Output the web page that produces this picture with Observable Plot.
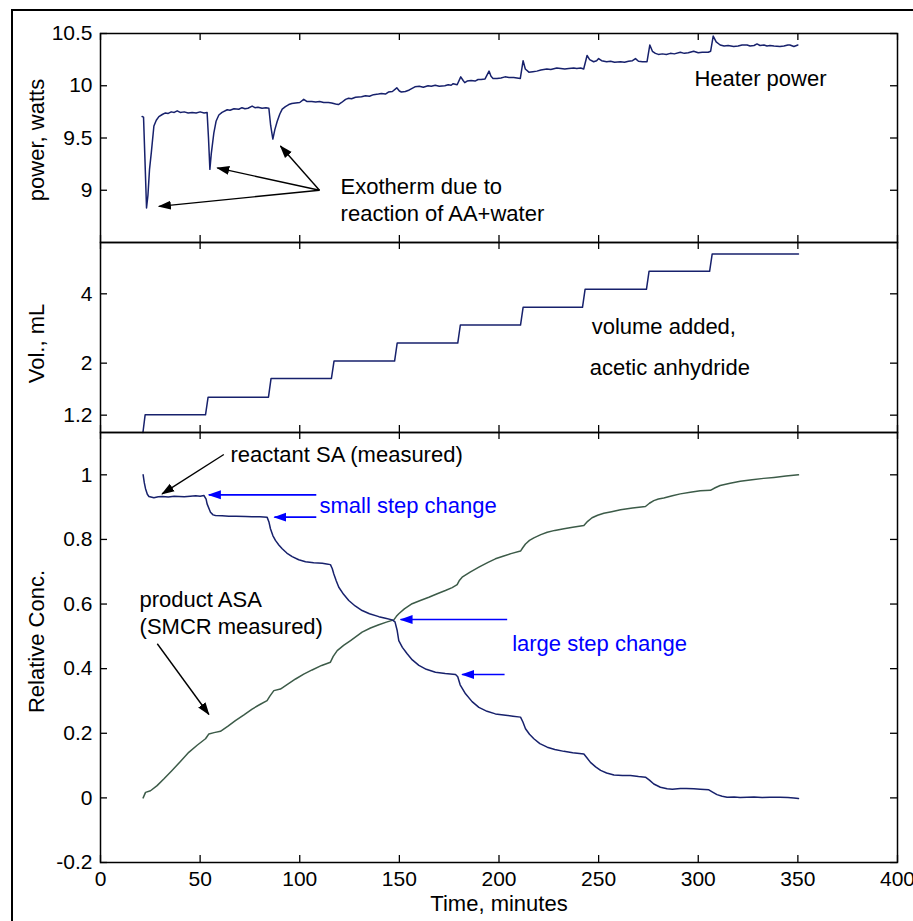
<!DOCTYPE html>
<html>
<head>
<meta charset="utf-8">
<script src="https://cdn.jsdelivr.net/npm/d3@7"></script>
<script src="https://cdn.jsdelivr.net/npm/@observablehq/plot@0.6"></script>
<style>
  html, body { margin: 0; padding: 0; background: #fff; overflow: hidden; }
  #fig { position: relative; width: 913px; height: 921px; overflow: hidden; }
  #fig svg { position: absolute; left: 0; overflow: visible; }
  #border { position: absolute; left: 11px; top: 9px; width: 1000px; height: 1000px; border: 2px solid #000; box-sizing: border-box; }
</style>
</head>
<body>
<div id="fig"><div id="border"></div></div>
<script>
// ---------------- DATA ----------------
const xTicks = [0, 50, 100, 150, 200, 250, 300, 350, 400];
const xTickLabels = ["0", "50", "100", "150", "200", "250", "300", "350", "400"];

// Top panel: heater power (watts) vs time (minutes)
const powerT = [20.9,21.6,22.3,23.1,23.8,24.6,25.5,26.8,28.0,29.3,31,32.6,34,35.5,37,38.5,40,42,44,46,48,50,52,53.5,
  54.2,54.9,55.6,56.9,58,59.4,61,63.6,65,67,69.4,71,72.5,74,76.1,77.5,79,81.1,83,84.5,
  85.4,86.5,87.5,88.7,90,91.2,92.8,94.5,96,97.9,100,102,103.5,106,108,110,112,114.4,116,118,119.4,121,123,124.5,126,128,131,133,135,137,139.5,141,143,144.5,146.5,
  148.7,150,151,153,155,157.8,160,162,164.4,166,168,170,172.8,174.5,176,177,179,
  180.8,182,182.8,184,186,188,189.5,191,193,195,196,197,199,201,203,205,207.4,209,210.7,
  212.1,213.2,215,217,219,221,224,226,229,231,233,235,237.5,239,241,242.5,
  244.2,245.5,247.5,249,250,251.5,254,256,258,261,263,265,267,268.5,270,272,274.3,
  275.7,277,278.5,280,282,284,286,288,291,293,295,297.7,300,302,305,306.2,
  307.5,309,311,313,315,317.8,320,322,324.5,326,328,329.5,331,333,334.5,336,338,341,343,345,346,348,350];
const powerW = [9.705,9.70,9.3,8.83,8.95,9.2,9.36,9.615,9.67,9.705,9.725,9.74,9.735,9.75,9.745,9.76,9.745,9.75,9.74,9.745,9.74,9.75,9.74,9.745,
  9.5,9.20,9.35,9.55,9.66,9.72,9.745,9.77,9.765,9.78,9.775,9.79,9.78,9.785,9.805,9.79,9.795,9.785,9.79,9.785,
  9.62,9.49,9.58,9.66,9.73,9.776,9.80,9.82,9.83,9.836,9.84,9.87,9.85,9.85,9.845,9.85,9.84,9.84,9.835,9.825,9.82,9.84,9.87,9.88,9.875,9.89,9.895,9.905,9.9,9.915,9.92,9.925,9.92,9.94,9.945,
  9.98,9.95,9.94,9.945,9.96,9.99,9.995,9.985,10.0,9.995,10.005,9.995,10.0,10.01,10.005,10.02,10.01,
  10.085,10.05,10.03,10.045,10.05,10.045,10.06,10.06,10.065,10.14,10.09,10.07,10.07,10.075,10.085,10.08,10.08,10.075,10.07,
  10.24,10.16,10.13,10.135,10.14,10.15,10.16,10.155,10.17,10.165,10.16,10.165,10.17,10.165,10.17,10.16,
  10.29,10.25,10.23,10.24,10.26,10.24,10.23,10.235,10.225,10.23,10.225,10.235,10.24,10.26,10.235,10.23,10.23,
  10.39,10.33,10.31,10.30,10.305,10.30,10.31,10.305,10.32,10.31,10.315,10.33,10.315,10.32,10.32,10.33,
  10.475,10.42,10.39,10.38,10.385,10.375,10.38,10.39,10.39,10.38,10.385,10.40,10.385,10.39,10.38,10.385,10.38,10.375,10.38,10.39,10.39,10.375,10.39];
const powerTicks = [9, 9.5, 10, 10.5];
const powerTickLabels = ["9", "9.5", "10", "10.5"];

// Middle panel: volume of acetic anhydride added (mL)
const volT = [21.3,22.4,52.7,54.0,84.3,85.6,115.9,117.2,147.6,148.9,179.3,180.6,210.8,212.1,241.9,243.2,274.0,275.3,305.7,307.0,350.3];
const volV = [0,0.51,0.51,1.02,1.02,1.56,1.56,2.06,2.06,2.58,2.58,3.10,3.10,3.61,3.61,4.13,4.13,4.65,4.65,5.15,5.15];
const volTicks = [0.5, 2, 4];
const volTickLabels = ["1.2", "2", "4"];

// Bottom panel: reactant SA (measured)
const saT = [21.4,22.0,22.6,23.5,24.3,26.8,29,31,34,37,39.4,42,45,47.8,50,51.9,53.0,53.5,55.2,56.5,57.7,61,64.4,68,72.8,76,80,83.6,
  84.5,85.3,86.5,87.8,89.5,91.2,93.5,96.2,99.5,102.9,107,111.3,113.5,115.4,116.3,117.1,118.3,119.6,122,124.6,127.8,131.3,135,139.7,143,146.4,
  147.8,148.9,149.7,151.5,153.9,156.5,159.8,163.5,168.1,173,178.2,179.3,180.5,183.2,186.5,189.9,194,198.2,203.3,207,210.8,
  212,213.3,215.3,217.5,220.5,224.2,228,232.6,237,242.6,244,245.9,248.5,251,254,257.7,262,266,270,273.5,
  275.5,277.7,281,284.4,287,291,294,297.8,301,305.3,307.2,309.4,312,314.5,318,321,324.5,328,332,336,341,345,348,350.3];
const saC = [1.0,0.975,0.957,0.94,0.933,0.929,0.932,0.933,0.931,0.934,0.933,0.932,0.934,0.935,0.934,0.936,0.925,0.910,0.884,0.876,0.874,0.873,0.872,0.872,0.871,0.870,0.870,0.869,
  0.855,0.833,0.812,0.797,0.783,0.771,0.758,0.747,0.737,0.731,0.728,0.726,0.724,0.722,0.71,0.693,0.672,0.652,0.63,0.611,0.594,0.580,0.570,0.561,0.556,0.551,
  0.545,0.518,0.487,0.466,0.446,0.427,0.41,0.398,0.389,0.385,0.382,0.375,0.35,0.322,0.298,0.280,0.268,0.260,0.256,0.253,0.250,
  0.235,0.214,0.197,0.183,0.168,0.157,0.150,0.144,0.140,0.136,0.125,0.110,0.096,0.085,0.077,0.071,0.069,0.069,0.066,0.064,
  0.055,0.043,0.033,0.028,0.027,0.029,0.029,0.028,0.027,0.025,0.018,0.010,0.005,0.002,0.003,0.001,0.002,0.003,0.001,0.002,0.002,0.001,0.0,-0.002];

// Bottom panel: product ASA (SMCR measured)
const asaT = [21.4,22.6,25.1,28.4,32,35.9,40,44.3,48.5,52.7,53.5,54.4,57,60.2,64,67.7,72,76.1,80,83.6,85,87,90.3,94,97.9,102,106.2,111,115.4,
  116.8,118.8,122,125.5,131.3,135.5,139.7,143.5,147.2,148.5,149.7,152.5,156.4,160.5,164.8,169,173.1,176.5,179,180,181.5,185.5,189.9,194.5,198.2,202,206,210.8,
  212,213.3,215.3,217.5,221,224.2,228,232.6,237,242.6,244.5,246.7,249.5,252.6,256.5,261,267,273.5,
  275.5,277.7,280,282.7,287,291,296,301,306.1,308.5,311,316,321.1,327,332.8,338,344,350.3];
const asaC = [0.0,0.017,0.022,0.038,0.06,0.085,0.112,0.141,0.163,0.183,0.19,0.198,0.202,0.206,0.222,0.239,0.257,0.275,0.289,0.301,0.315,0.332,0.337,0.352,0.368,0.383,0.396,0.41,0.42,
  0.438,0.456,0.472,0.487,0.513,0.526,0.536,0.544,0.551,0.562,0.570,0.585,0.601,0.611,0.621,0.632,0.642,0.651,0.660,0.672,0.683,0.699,0.714,0.729,0.740,0.748,0.756,0.764,
  0.775,0.786,0.797,0.805,0.815,0.822,0.828,0.833,0.838,0.843,0.856,0.867,0.875,0.881,0.886,0.892,0.897,0.902,
  0.912,0.920,0.925,0.928,0.935,0.941,0.946,0.951,0.952,0.96,0.967,0.974,0.980,0.985,0.989,0.992,0.996,1.0];
const concTicks = [-0.2, 0, 0.2, 0.4, 0.6, 0.8, 1];
const concTickLabels = ["-0.2", "0", "0.2", "0.4", "0.6", "0.8", "1"];

// Annotations (data coordinates)
const exoArrows = [
  {x1: 109.9, y1: 9.0, x2: 29.3, y2: 8.846},
  {x1: 109.9, y1: 9.0, x2: 58.6, y2: 9.214},
  {x1: 109.9, y1: 9.0, x2: 90.3, y2: 9.423}
];
const blackArrowsConc = [
  {x1: 61.9, y1: 1.063, x2: 30.9, y2: 0.941},
  {x1: 28.5, y1: 0.477, x2: 54.4, y2: 0.258}
];
const blueArrowsConc = [
  {x1: 108.3, y1: 0.938, x2: 54.4, y2: 0.938},
  {x1: 108.3, y1: 0.869, x2: 87.3, y2: 0.869},
  {x1: 204.1, y1: 0.552, x2: 150.6, y2: 0.552},
  {x1: 202.8, y1: 0.382, x2: 181.5, y2: 0.382}
];

// ---------------- DRAWING ----------------
const W = 913, ML = 100, MR = 16;
const FONT = "'Liberation Sans', Arial, Helvetica, sans-serif";
const NAVY = "#17216c", GREEN = "#3c5b48", BLUE = "#0000ff";
const SVGNS = "http://www.w3.org/2000/svg";

function filledHead(color) {
  const m = document.createElementNS(SVGNS, "marker");
  m.setAttribute("viewBox", "0 -5 13 10");
  m.setAttribute("markerWidth", "13");
  m.setAttribute("markerHeight", "10");
  m.setAttribute("markerUnits", "userSpaceOnUse");
  m.setAttribute("refX", "12");
  m.setAttribute("refY", "0");
  m.setAttribute("orient", "auto");
  const p = document.createElementNS(SVGNS, "path");
  p.setAttribute("d", "M0,-4.5L13,0L0,4.5Z");
  p.setAttribute("fill", color);
  p.setAttribute("stroke", "none");
  m.appendChild(p);
  return m;
}

function tickMarks(yTicks, frameW, frameH) {
  const L = 7;
  return [
    Plot.tickY(yTicks, {y: d => d, insetRight: frameW - L, stroke: "#000", strokeWidth: 1.3}),
    Plot.tickY(yTicks, {y: d => d, insetLeft: frameW - L, stroke: "#000", strokeWidth: 1.3}),
    Plot.tickX(xTicks, {x: d => d, insetBottom: frameH - L, stroke: "#000", strokeWidth: 1.3}),
    Plot.tickX(xTicks, {x: d => d, insetTop: frameH - L, stroke: "#000", strokeWidth: 1.3})
  ];
}

function yLabels(ticks, labels) {
  return Plot.text(ticks, {y: d => d, text: (d, i) => labels[i], frameAnchor: "left", dx: -8, textAnchor: "end", fontSize: 21, fill: "#000"});
}

function yTitle(txt, dy) {
  return Plot.text([txt], {frameAnchor: "left", dx: -64, dy: dy || 0, rotate: -90, text: d => d, textAnchor: "middle", fontSize: 22, fill: "#000"});
}

function basePlot(height, mt, mb, ydomain, marks) {
  return Plot.plot({
    width: W, height, marginLeft: ML, marginRight: MR, marginTop: mt, marginBottom: mb,
    x: {domain: [0, 400], axis: null},
    y: {domain: ydomain, axis: null},
    style: {fontFamily: FONT, fontSize: "21px", background: "transparent", overflow: "visible"},
    marks
  });
}

const FW = W - ML - MR;

// Top panel
const powerChart = basePlot(242, 33, 0, [8.5, 10.5], [
  Plot.line(powerT, {x: d => d, y: (d, i) => powerW[i], stroke: NAVY, strokeWidth: 1.5}),
  ...tickMarks(powerTicks, FW, 209),
  yLabels(powerTicks, powerTickLabels),
  yTitle("power, watts", 2),
  Plot.text(["Heater power"], {x: 298.1, y: 10.067, text: d => d, textAnchor: "start", fontSize: 22, fill: "#000"}),
  Plot.text(["Exotherm due to"], {x: 120.5, y: 9.032, text: d => d, textAnchor: "start", fontSize: 22, fill: "#000"}),
  Plot.text(["reaction of AA+water"], {x: 120.5, y: 8.772, text: d => d, textAnchor: "start", fontSize: 22, fill: "#000"}),
  Plot.link(exoArrows, {x1: "x1", y1: "y1", x2: "x2", y2: "y2", stroke: "#000", strokeWidth: 1.4, markerEnd: filledHead}),
  Plot.frame({stroke: "#000", strokeWidth: 1.5})
]);
powerChart.style.top = "0px";

// Middle panel
const volChart = basePlot(190, 0, 0, [0, 5.48], [
  Plot.line(volT, {x: d => d, y: (d, i) => volV[i], stroke: NAVY, strokeWidth: 1.5}),
  ...tickMarks(volTicks, FW, 190),
  yLabels(volTicks, volTickLabels),
  yTitle("Vol., mL", 6),
  Plot.text(["volume added,"], {x: 246.5, y: 3.05, text: d => d, textAnchor: "start", fontSize: 22, fill: "#000"}),
  Plot.text(["acetic anhydride"], {x: 245.5, y: 1.85, text: d => d, textAnchor: "start", fontSize: 22, fill: "#000"}),
  Plot.frame({stroke: "#000", strokeWidth: 1.5})
]);
volChart.style.top = "242px";

// Bottom panel
const concChart = basePlot(489, 0, 59, [-0.2, 1.131], [
  Plot.line(asaT, {x: d => d, y: (d, i) => asaC[i], stroke: GREEN, strokeWidth: 1.5}),
  Plot.line(saT, {x: d => d, y: (d, i) => saC[i], stroke: NAVY, strokeWidth: 1.5}),
  ...tickMarks(concTicks, FW, 430),
  yLabels(concTicks, concTickLabels),
  yTitle("Relative Conc.", -6),
  Plot.text(xTicks, {x: d => d, text: (d, i) => xTickLabels[i], frameAnchor: "bottom", dy: 23, textAnchor: "middle", fontSize: 21, fill: "#000"}),
  Plot.text(["Time, minutes"], {frameAnchor: "bottom", dy: 48, text: d => d, textAnchor: "middle", fontSize: 22, fill: "#000"}),
  Plot.text(["reactant SA (measured)"], {x: 65.2, y: 1.063, text: d => d, textAnchor: "start", fontSize: 22, fill: "#000"}),
  Plot.text(["product ASA"], {x: 19.6, y: 0.614, text: d => d, textAnchor: "start", fontSize: 22, fill: "#000"}),
  Plot.text(["(SMCR measured)"], {x: 19.6, y: 0.528, text: d => d, textAnchor: "start", fontSize: 22, fill: "#000"}),
  Plot.text(["small step change"], {x: 109.9, y: 0.905, text: d => d, textAnchor: "start", fontSize: 22, fill: BLUE}),
  Plot.text(["large step change"], {x: 206.6, y: 0.477, text: d => d, textAnchor: "start", fontSize: 22, fill: BLUE}),
  Plot.link(blackArrowsConc, {x1: "x1", y1: "y1", x2: "x2", y2: "y2", stroke: "#000", strokeWidth: 1.4, markerEnd: filledHead}),
  Plot.link(blueArrowsConc, {x1: "x1", y1: "y1", x2: "x2", y2: "y2", stroke: BLUE, strokeWidth: 1.6, markerEnd: filledHead}),
  Plot.frame({stroke: "#000", strokeWidth: 1.5})
]);
concChart.style.top = "432px";

const fig = document.getElementById("fig");
fig.appendChild(powerChart);
fig.appendChild(volChart);
fig.appendChild(concChart);
</script>
</body>
</html>
